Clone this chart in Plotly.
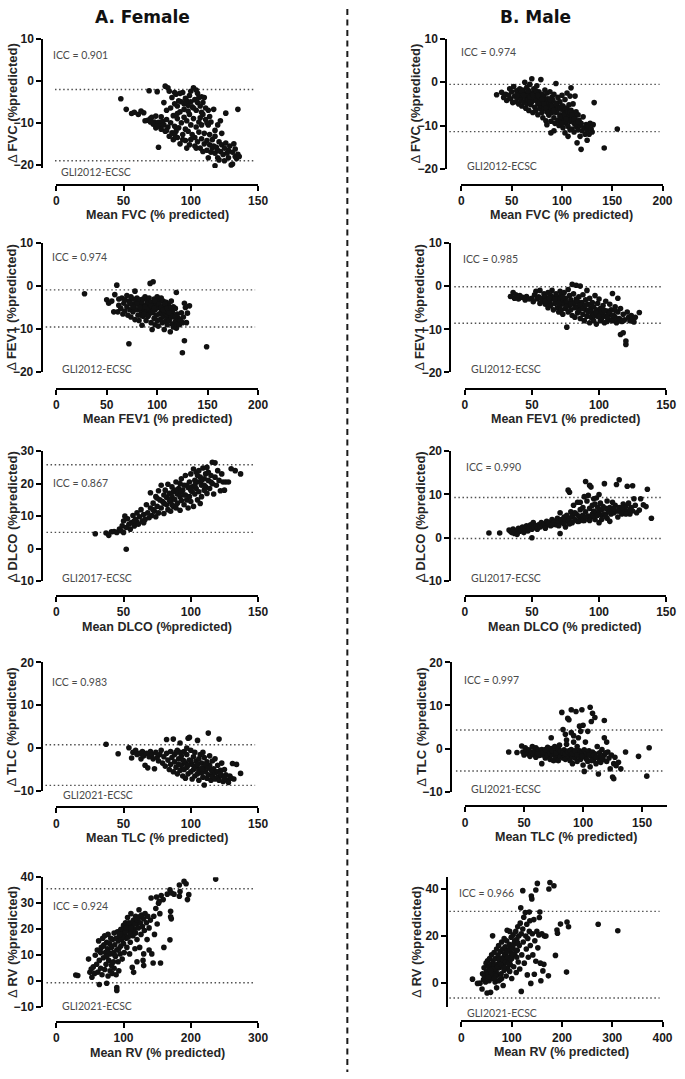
import plotly.graph_objects as go

W, H = 685, 1079

# ---------------- data (mean, difference) ----------------
female_fvc = [(48,-4.3),(52,-6.8),(56,-7.8),(58,-7.5),(61,-8.0),(63,-7.2),(65,-7.6),(66,-9.5),(68,-9.4),(69,-2.4),(70,-9.0),(71,-8.7),(72,-10.3),(73,-9.8),(74,-11.2),(74,-8.4),(75,-2.6),(76,-9.9),(76,-15.8),(77,-10.8),(78,-8.6),(78,-11.5),(79,-9.7),(80,-10.5),(80,-5.2),(81,-1.3),(81,-12.0),(82,-7.0),(82,-9.2),(83,-1.7),(83,-11.0),(84,-2.5),(84,-13.2),(85,-6.5),(85,-10.0),(86,-4.0),(86,-12.4),(87,-8.3),(87,-14.0),(88,-5.5),(88,-10.8),(89,-3.2),(89,-12.0),(90,-6.0),(90,-9.0),(90,-13.5),(91,-4.8),(91,-11.2),(92,-7.4),(92,-15.0),(93,-5.0),(93,-10.0),(94,-2.8),(94,-12.8),(95,-6.8),(95,-8.7),(96,-4.2),(96,-11.5),(96,-14.2),(97,-9.5),(97,-16.0),(98,-5.8),(98,-12.0),(99,-3.5),(99,-8.0),(100,-2.5),(100,-10.5),(100,-14.0),(101,-6.2),(101,-12.8),(102,-1.7),(102,-9.0),(103,-4.5),(103,-13.5),(103,-15.5),(104,-7.0),(104,-11.0),(105,-3.0),(105,-5.2),(105,-14.5),(106,-9.8),(106,-12.2),(107,-6.0),(107,-16.0),(108,-3.8),(108,-10.5),(108,-13.8),(109,-5.2),(109,-8.0),(110,-12.5),(110,-15.0),(111,-9.2),(111,-6.5),(112,-14.2),(112,-16.5),(113,-10.5),(113,-7.0),(114,-15.2),(114,-12.8),(115,-17.0),(115,-9.8),(116,-14.0),(116,-16.0),(117,-6.8),(117,-15.5),(118,-13.2),(118,-20.2),(118,-17.2),(119,-15.8),(120,-10.5),(120,-16.5),(121,-18.8),(121,-14.5),(122,-9.5),(122,-16.8),(123,-12.5),(123,-15.2),(124,-17.5),(125,-16.0),(125,-19.0),(126,-7.7),(126,-14.8),(127,-17.2),(128,-16.5),(128,-18.3),(129,-15.5),(130,-20.0),(131,-19.8),(131,-17.0),(132,-15.0),(133,-18.0),(133,-16.2),(134,-18.5),(135,-17.5),(135,-6.8),(136,-18.0),
(88,-2.8),(92,-3.0),(97,-4.8),(100,-5.0),(104,-2.2),(106,-4.0),(107,-8.8),(110,-4.0),(95,-5.5),(90,-7.8),(98,-7.2),(102,-6.5),(108,-7.5),(112,-10.0),(118,-11.8),(114,-8.5),(70,-9.8),(75,-10.8),(82,-11.8),(88,-12.8),(94,-14.0),(99,-15.2),(104,-16.0),(109,-16.8),(113,-18.3),(120,-18.3)]

male_fvc = [(35,-2.9),(40,-2.3),(42,-3.5),(44,-2.8),(45,-4.2),(47,-3.0),(48,-1.5),(49,-3.8),(50,-2.2),(51,-4.7),(52,-1.0),(53,-3.2),(54,-4.5),(55,-2.0),(56,-3.6),(57,-5.0),(58,-1.5),(58,-2.8),(59,-4.0),(60,-3.0),(60,-5.5),(61,-1.8),(62,-4.6),(63,0.0),(63,-2.5),(64,-3.8),(64,-6.0),(65,-1.2),(65,-5.0),(66,-3.0),(66,-4.2),(67,-2.0),(67,-6.5),(68,-0.5),(68,-3.5),(69,-5.2),(70,0.8),(70,-2.5),(70,-4.5),(71,-7.0),(72,-3.8),(72,-1.5),(73,-5.8),(73,-2.8),(74,-4.2),(74,-6.6),(75,-3.2),(75,-0.8),(76,-5.0),(76,-7.5),(77,-2.2),(77,-4.0),(78,-6.0),(78,-3.5),(79,0.6),(79,-5.3),(80,-2.8),(80,-7.0),(81,-4.5),(81,-8.2),(82,-3.2),(82,-6.0),(83,-1.8),(83,-5.0),(84,-4.0),(84,-8.9),(85,-6.8),(85,-2.5),(86,-5.5),(86,-3.8),(87,-7.6),(87,-4.6),(88,-2.2),(88,-6.2),(89,-9.0),(89,-11.7),(89,-5.0),(90,-3.5),(90,-7.0),(91,-6.0),(91,-4.2),(92,-8.2),(92,-2.8),(93,-5.5),(93,-9.5),(94,-0.3),(94,-7.0),(95,-4.8),(95,-6.5),(96,-8.8),(96,-3.5),(97,-5.8),(97,-10.0),(98,-7.5),(98,-4.5),(99,-6.2),(99,-9.0),(100,-3.0),(100,-7.8),(101,-5.5),(101,-10.5),(102,-6.8),(102,-8.5),(103,-11.7),(103,-4.0),(104,-7.2),(104,-9.5),(105,-6.0),(105,-2.5),(106,-8.2),(106,-10.2),(107,-5.2),(107,-7.5),(108,-9.0),(108,-3.2),(109,-1.3),(109,-6.5),(110,-8.5),(110,-10.8),(111,-7.0),(111,-5.0),(112,-9.5),(112,-11.5),(113,-3.2),(113,-8.0),(114,-6.8),(114,-10.2),(115,-14.0),(115,-9.0),(116,-7.5),(116,-11.0),(117,-8.8),(118,-10.0),(118,-12.5),(119,-15.5),(119,-9.5),(120,-11.2),(121,-8.0),(122,-10.5),(123,-12.0),(124,-9.8),(125,-13.4),(125,-11.0),(126,-10.2),(127,-12.0),(128,-9.5),(129,-10.8),(130,-11.5),(131,-9.8),(132,-4.7),(142,-15.2),(155,-10.8),
(55,-3.0),(60,-2.0),(62,-3.0),(66,-2.0),(68,-4.5),(71,-3.0),(74,-2.0),(76,-3.0),(78,-4.8),(80,-4.0),(82,-5.0),(84,-6.0),(86,-7.0),(88,-4.0),(90,-5.5),(92,-6.5),(94,-5.0),(96,-6.0),(98,-6.0),(100,-5.5),(102,-7.5),(104,-6.0),(106,-6.8),(108,-7.0),(110,-7.5),(112,-8.5),(114,-9.5),(116,-9.2),(100,-9.5),(98,-8.0),(104,-8.5),(108,-11.0),(92,-11.2),(85,-9.8),(106,-12.5)]

female_fev1 = [(28,-1.8),(50,-3.2),(52,-4.0),(55,-3.5),(57,-6.0),(58,-2.0),(60,0.2),(61,-6.0),(62,-3.0),(62,-4.5),(64,-5.2),(65,-2.8),(66,-6.5),(67,-4.0),(68,-3.2),(68,-5.8),(70,-2.2),(70,-4.8),(71,-6.8),(72,-13.4),(72,-3.5),(73,-5.5),(74,-2.5),(74,-7.2),(75,-4.2),(76,-3.0),(76,-6.0),(77,-5.0),(78,-1.2),(78,-7.8),(79,-3.8),(80,-5.5),(80,-2.8),(81,-6.8),(82,-4.2),(82,-8.0),(83,-3.2),(84,-5.8),(84,-6.8),(85,-9.1),(85,-4.0),(86,-3.0),(86,-7.0),(87,-5.2),(88,-2.5),(88,-6.0),(89,-4.5),(89,-8.0),(90,-3.5),(90,-5.8),(91,-7.0),(91,-4.0),(92,-2.8),(92,-6.5),(93,0.6),(93,-5.0),(94,-8.5),(94,-3.8),(95,-6.2),(95,-10.1),(96,1.0),(96,-4.5),(97,-7.5),(97,-3.0),(98,-5.5),(98,-9.0),(99,-4.0),(99,-6.8),(100,-2.5),(100,-8.0),(101,-5.0),(101,-9.3),(102,-3.5),(102,-6.5),(103,-7.8),(103,-4.8),(104,-2.8),(104,-6.0),(105,-8.5),(105,-5.5),(106,-3.5),(106,-7.0),(107,-10.1),(107,-4.5),(108,-6.2),(108,-8.2),(109,-3.8),(109,-5.8),(110,-7.5),(110,-9.0),(111,-4.2),(111,-6.8),(112,-8.0),(113,-10.6),(113,-5.5),(114,-7.2),(114,-3.5),(115,-8.8),(115,-6.0),(116,-4.8),(116,-9.5),(117,-7.0),(118,-8.2),(118,-5.2),(119,-1.5),(119,-9.8),(120,-6.5),(120,-8.8),(121,-7.5),(122,-9.0),(123,-8.0),(124,-6.2),(125,-15.5),(125,-8.5),(126,-7.2),(127,-4.0),(127,-12.7),(128,-5.0),(129,-8.5),(130,-6.3),(132,-4.6),(149,-14.1),
(80,-4.2),(85,-5.0),(88,-4.8),(90,-6.8),(92,-5.5),(94,-6.0),(96,-5.8),(98,-3.5),(100,-4.8),(102,-4.2),(104,-5.0),(106,-5.5),(108,-4.2),(110,-5.2),(112,-6.2),(114,-5.0),(116,-7.0),(118,-7.0),(94,-4.6),(97,-5.2),(87,-6.5),(83,-5.0),(76,-4.8),(73,-4.0)]

male_fev1 = [(34,-2.4),(36,-1.5),(37,-2.8),(38,-2.0),(40,-3.0),(41,-2.2),(43,-2.6),(45,-3.2),(46,-2.4),(48,-3.0),(50,-2.8),(51,-3.6),(52,-2.0),(53,-1.2),(54,-3.0),(55,-2.5),(56,-1.0),(56,-4.0),(57,-2.8),(58,-3.5),(59,-1.8),(60,-4.2),(60,-2.5),(61,-3.2),(62,-1.5),(62,-5.0),(63,-3.8),(64,-2.2),(64,-4.5),(65,-1.0),(65,-3.0),(66,-5.5),(66,-2.6),(67,-4.0),(68,-1.8),(68,-3.4),(69,-5.0),(69,-2.5),(70,-6.0),(70,-3.0),(71,-1.2),(71,-4.5),(72,-2.2),(72,-5.5),(73,-3.5),(73,-6.5),(74,-1.5),(74,-4.2),(75,-2.8),(75,-5.2),(76,-9.5),(76,-3.8),(77,-0.8),(77,-6.0),(78,-4.5),(78,-2.2),(79,-5.5),(79,-3.2),(80,0.4),(80,-6.8),(81,-4.0),(81,-1.8),(82,-5.0),(82,-7.2),(83,0.2),(83,-3.0),(84,-4.8),(84,-6.2),(85,-2.5),(85,-5.8),(86,0.0),(86,-7.5),(87,-3.8),(87,-5.0),(88,-6.5),(88,-2.0),(89,-4.5),(89,-8.0),(90,-5.5),(90,-3.2),(91,-7.0),(91,-1.0),(92,-4.2),(92,-6.0),(93,-8.5),(93,-2.8),(94,-5.0),(94,-7.2),(95,-3.8),(95,-6.2),(96,-8.0),(96,-4.8),(97,-2.2),(97,-6.8),(98,-5.5),(98,-8.8),(99,-4.0),(99,-7.0),(100,-6.0),(100,-3.0),(101,-8.0),(101,-5.2),(102,-7.5),(103,-4.5),(103,-6.5),(104,-8.5),(105,-3.5),(105,-7.0),(106,-5.8),(106,-8.2),(107,-6.5),(108,-4.2),(108,-7.8),(109,-5.5),(110,-1.7),(110,-8.0),(111,-6.8),(112,-4.8),(112,-7.2),(113,-8.5),(114,-2.8),(114,-6.0),(115,-7.5),(116,-11.2),(116,-5.2),(117,-8.2),(118,-10.8),(118,-6.5),(119,-7.8),(120,-13.5),(120,-12.7),(121,-6.0),(122,-7.2),(123,-8.0),(124,-6.8),(125,-7.5),(126,-8.3),(127,-7.2),(130,-6.1),
(60,-3.5),(63,-2.8),(67,-3.0),(70,-4.0),(73,-2.6),(76,-4.6),(79,-4.2),(82,-3.8),(84,-3.6),(86,-4.4),(88,-5.2),(90,-4.4),(92,-5.6),(94,-6.0),(96,-6.6),(98,-6.2),(100,-7.0),(102,-6.0),(104,-5.6),(106,-7.2),(108,-6.2),(110,-6.8),(112,-5.6),(114,-8.0),(116,-7.8),(118,-8.0)]

female_dlco = [(29,4.6),(37,4.8),(39,4.1),(41,5.2),(43,5.3),(45,5.0),(47,6.0),(48,5.5),(49,7.0),(50,5.0),(50,8.5),(51,10.0),(52,-0.2),(52,6.5),(53,9.2),(54,7.5),(55,6.0),(56,8.0),(57,10.2),(58,7.0),(59,9.0),(60,8.2),(60,11.0),(61,7.5),(62,9.8),(63,12.0),(64,8.5),(65,10.5),(66,9.0),(67,13.5),(68,11.0),(69,9.5),(70,12.5),(70,17.2),(71,10.2),(72,14.0),(73,11.5),(74,16.0),(74,9.8),(75,13.0),(76,17.8),(76,11.0),(77,15.0),(78,12.5),(78,19.5),(79,14.5),(80,16.5),(80,10.8),(81,18.0),(82,13.5),(82,15.8),(83,19.8),(83,12.0),(84,17.0),(85,14.5),(85,11.5),(86,16.0),(86,19.0),(87,13.0),(88,18.0),(88,15.2),(89,20.5),(89,12.5),(90,16.8),(90,14.0),(91,18.5),(92,11.8),(92,16.0),(93,21.5),(93,14.8),(94,18.0),(95,13.5),(95,19.5),(96,16.5),(96,22.5),(97,15.0),(98,18.8),(98,12.5),(99,20.5),(99,16.0),(100,23.0),(100,14.5),(101,19.0),(101,17.5),(102,24.5),(102,13.0),(103,21.0),(103,16.8),(104,23.5),(104,18.5),(105,15.0),(105,20.5),(106,24.0),(106,17.5),(107,13.9),(107,22.0),(108,19.5),(108,16.0),(109,24.8),(110,21.5),(110,18.0),(111,19.0),(111,23.0),(112,17.0),(112,25.0),(113,21.0),(114,18.5),(115,22.5),(116,26.6),(116,20.0),(117,16.8),(118,26.4),(118,22.0),(119,19.5),(120,24.0),(121,21.0),(122,17.8),(123,23.0),(124,20.5),(125,18.0),(126,20.5),(128,20.5),(130,24.6),(133,24.0),(137,23.0),
(84,15.0),(87,17.5),(90,18.0),(93,17.5),(95,16.5),(97,19.5),(100,18.0),(103,19.5),(105,22.5),(108,21.0),(110,19.5),(113,23.5),(115,20.5),(92,20.0),(86,13.5),(80,14.0),(75,15.5),(72,12.0),(65,8.0),(58,8.5)]

male_dlco = [(18,1.1),(26,1.1),(33,1.8),(34,1.5),(35,1.2),(36,2.0),(37,1.0),(38,1.6),(39,0.8),(40,2.2),(41,1.5),(42,1.8),(43,2.5),(44,1.2),(45,2.0),(46,2.8),(47,1.6),(48,2.3),(49,3.0),(50,0.0),(50,2.0),(51,3.5),(52,2.4),(53,2.8),(54,2.0),(55,3.0),(56,2.5),(57,3.5),(58,2.8),(59,3.2),(60,2.6),(61,3.8),(62,3.0),(63,3.5),(64,2.8),(65,4.2),(66,3.4),(67,3.8),(68,3.0),(69,4.5),(70,3.6),(71,1.0),(71,5.8),(72,4.2),(73,3.5),(74,4.8),(75,2.5),(75,4.0),(76,5.2),(77,11.0),(77,3.8),(78,10.5),(78,4.5),(79,6.0),(80,3.5),(80,5.0),(81,7.5),(82,4.2),(83,5.5),(84,8.2),(84,3.8),(85,5.0),(86,6.5),(87,4.5),(88,7.0),(88,5.2),(89,4.0),(90,13.0),(90,6.0),(91,8.5),(92,9.8),(92,5.0),(93,12.1),(93,6.8),(94,11.7),(94,4.8),(95,7.5),(95,5.5),(96,9.0),(96,6.2),(97,4.2),(98,9.2),(98,5.8),(99,7.0),(100,6.0),(100,3.5),(101,8.0),(102,5.2),(102,6.5),(103,7.2),(104,12.5),(104,5.5),(105,6.8),(106,4.5),(106,8.5),(107,6.0),(108,7.0),(108,3.8),(109,5.5),(110,6.5),(110,8.2),(111,5.8),(112,7.5),(113,12.3),(113,6.2),(114,4.8),(115,13.4),(115,7.0),(116,6.0),(117,5.5),(118,7.8),(119,6.5),(120,7.2),(121,11.9),(121,6.0),(122,8.0),(123,5.5),(124,7.0),(125,12.0),(125,6.2),(126,9.0),(127,7.5),(128,5.8),(130,6.4),(131,9.0),(133,7.6),(135,7.2),(136,11.2),(139,4.5),
(60,2.2),(65,3.0),(70,2.8),(74,3.2),(78,3.2),(82,5.8),(85,3.8),(88,4.0),(90,4.8),(93,4.0),(96,5.0),(99,5.2),(102,4.2),(105,5.0),(108,6.0),(111,6.8),(114,6.2),(117,7.0),(120,5.5),(123,6.5),(97,7.8),(89,9.5),(86,8.2),(100,10.0)]

female_tlc = [(37,0.9),(46,-1.3),(54,0.1),(56,-2.3),(57,-1.0),(59,-0.5),(60,-1.5),(62,-1.2),(63,-2.5),(64,-0.8),(65,-1.8),(66,-4.0),(67,-1.2),(68,-4.6),(69,-2.0),(70,-0.8),(71,-1.5),(72,-2.5),(73,-4.8),(74,-1.0),(75,-2.2),(76,-3.0),(77,-1.5),(78,-0.5),(79,-3.5),(80,-2.0),(81,-4.2),(82,2.0),(82,-1.2),(83,-2.8),(84,-5.0),(85,-0.8),(85,-3.8),(86,-2.2),(87,2.1),(87,-5.5),(88,-1.5),(88,-3.2),(89,-4.5),(90,-0.5),(90,-6.0),(91,-2.5),(91,-3.8),(92,1.2),(92,-5.2),(93,-1.8),(93,-4.0),(94,-6.5),(94,-2.8),(95,-0.8),(95,-5.0),(96,-3.5),(96,-7.0),(97,-1.5),(97,-4.5),(98,2.3),(98,-6.0),(99,2.5),(99,-2.8),(100,-5.5),(100,-0.5),(101,-3.8),(101,-7.2),(102,-2.0),(102,-5.0),(103,-6.5),(103,-1.0),(104,-4.2),(104,-3.0),(105,1.8),(105,-6.0),(106,-2.5),(106,-7.5),(107,-4.8),(107,-1.5),(108,-5.8),(108,-3.5),(109,-6.8),(110,-8.6),(110,-2.2),(110,-4.5),(111,-5.5),(112,-3.2),(112,-7.0),(113,3.5),(113,-6.2),(114,-4.0),(114,-1.8),(115,-5.0),(115,-7.5),(116,-3.0),(116,-6.5),(117,-4.8),(118,-7.2),(118,-2.5),(119,-5.5),(120,-6.8),(120,-4.0),(121,2.1),(121,-7.5),(122,-5.2),(123,-3.5),(123,-6.5),(124,-7.8),(125,-5.0),(126,-6.2),(127,-7.5),(128,-8.0),(129,-6.5),(130,-7.0),(131,-3.6),(132,-7.2),(134,-3.8),(137,-5.9),
(95,-3.0),(98,-4.0),(100,-3.0),(103,-4.5),(105,-3.8),(106,-5.2),(108,-4.8),(111,-3.8),(113,-4.6),(116,-5.5),(118,-5.8),(120,-5.5),(122,-6.0),(109,-1.0),(97,0.0),(92,-1.0),(89,-1.0),(125,-6.8)]

male_tlc = [(37,-0.8),(44,-0.9),(48,0.6),(49,-0.8),(50,-1.5),(51,0.2),(52,-0.5),(53,-1.2),(54,-0.3),(55,-1.8),(56,-0.8),(57,0.5),(58,-1.3),(59,-0.5),(60,-2.0),(60,0.2),(61,-1.0),(62,-0.3),(63,-1.6),(64,-0.8),(65,-3.5),(65,-0.2),(66,-1.5),(67,-0.6),(68,-2.2),(69,-1.0),(70,0.3),(70,-1.8),(71,-0.5),(72,-2.5),(72,-1.2),(73,0.0),(73,2.5),(74,-1.5),(75,-0.8),(75,-2.8),(76,-1.2),(76,0.5),(77,-2.0),(78,-0.5),(78,-1.5),(79,-2.8),(80,-0.8),(80,0.8),(81,-1.8),(82,8.4),(82,-1.0),(83,-2.2),(83,4.4),(84,-0.3),(84,-1.5),(85,3.3),(85,-2.5),(86,-0.8),(86,1.0),(87,7.0),(87,-1.8),(88,6.7),(88,-0.5),(89,-2.8),(89,-1.2),(90,9.0),(90,3.7),(90,-0.2),(91,-1.8),(91,-3.5),(92,1.5),(92,-0.8),(93,-2.2),(94,8.6),(94,-1.2),(95,0.5),(95,-3.0),(96,2.5),(96,-1.5),(97,5.2),(97,-0.5),(98,-2.5),(99,9.0),(99,-1.0),(100,5.4),(100,-3.8),(101,-5.3),(101,-0.3),(102,-2.0),(102,1.5),(103,-1.2),(104,4.0),(104,-3.0),(105,-0.5),(106,9.6),(106,-4.2),(107,6.3),(107,-1.8),(108,8.2),(108,-0.8),(109,-2.8),(110,7.2),(110,-1.2),(111,-3.5),(112,0.5),(113,-5.9),(113,-2.0),(114,-1.0),(115,-3.2),(116,-0.2),(117,-2.5),(118,6.5),(118,2.5),(118,-1.5),(120,-3.0),(121,-0.8),(122,-2.2),(123,-4.7),(124,-1.5),(125,-6.6),(126,-7.0),(126,-3.5),(127,-2.0),(128,-4.0),(130,-3.2),(132,-4.7),(136,-0.8),(147,-1.8),(154,-6.4),(156,0.2),
(62,-1.2),(66,-0.8),(68,-0.2),(74,-0.5),(77,-1.0),(79,-0.2),(81,-0.5),(83,-1.0),(85,-1.2),(87,-0.8),(89,-0.5),(91,-1.2),(93,-0.5),(95,-1.5),(97,-2.0),(99,-1.8),(103,-2.5),(105,-1.5),(107,-2.8),(109,-1.5),(111,-2.0),(114,-3.0),(116,-2.0),(119,-1.0),(92,3.0),(98,4.0),(86,2.0),(120,1.5)]

female_rv = [(29,2.4),(32,2.2),(48,8.5),(50,3.4),(52,4.7),(53,1.5),(55,5.5),(57,3.0),(58,10.0),(60,6.5),(61,12.0),(62,3.5),(63,15.5),(64,-1.3),(64,8.0),(65,11.5),(66,5.0),(67,13.0),(68,2.5),(69,16.5),(70,9.0),(71,14.0),(72,4.5),(72,17.5),(73,11.0),(74,6.5),(75,-0.8),(75,15.0),(76,12.5),(77,2.0),(77,18.0),(78,8.0),(79,14.5),(80,4.0),(80,10.5),(81,16.5),(82,13.0),(83,3.0),(83,7.0),(84,16.0),(85,11.0),(86,5.0),(86,18.5),(87,14.0),(88,9.5),(89,2.5),(89,16.5),(90,-2.5),(90,-3.6),(90,12.0),(91,19.0),(92,7.5),(92,15.5),(93,4.0),(94,17.5),(95,10.5),(96,20.0),(96,13.5),(97,16.0),(98,8.5),(99,19.5),(100,14.5),(100,21.5),(101,11.0),(102,18.0),(103,22.5),(104,16.5),(105,13.0),(105,20.0),(106,24.5),(107,17.0),(108,19.5),(109,10.5),(110,22.0),(110,15.0),(111,26.0),(112,19.0),(113,5.3),(113,21.5),(114,17.5),(115,3.4),(115,23.5),(116,20.0),(117,12.5),(118,25.0),(118,18.5),(119,22.0),(120,7.5),(120,16.0),(121,24.0),(122,20.5),(123,27.5),(124,13.0),(125,22.5),(126,18.0),(127,25.5),(128,21.0),(129,8.0),(130,24.0),(130,6.0),(131,19.5),(132,26.0),(134,22.5),(135,16.0),(136,25.0),(138,20.5),(140,23.5),(141,32.0),(142,10.5),(144,7.0),(145,25.0),(146,18.0),(148,28.0),(149,32.4),(150,22.0),(152,30.0),(153,30.7),(154,26.0),(155,7.0),(156,33.0),(159,31.4),(160,13.0),(165,33.5),(169,35.2),(169,15.9),(170,26.9),(170,24.8),(171,24.0),(171,34.0),(175,33.5),(183,37.0),(183,32.7),(184,34.5),(190,38.4),(193,37.5),(195,31.4),(197,33.3),(237,39.3),
(100,18.0),(103,19.0),(106,21.0),(108,22.5),(111,20.5),(114,23.0),(117,22.0),(120,23.5),(123,24.5),(125,25.0),(110,18.0),(104,20.5),(98,17.0),(95,18.0),(93,12.5),(87,10.0),(82,6.0),(78,11.0),(70,13.5),(66,11.0),(75,9.5),(85,7.5),(130,10.5),(138,12.0)]

male_rv = [(22,1.7),(32,-0.1),(37,0.0),(41,-2.5),(42,4.0),(44,1.5),(45,6.5),(46,3.0),(48,0.5),(49,8.5),(50,5.0),(51,-4.2),(51,2.5),(52,9.5),(53,4.0),(54,7.0),(55,1.0),(56,10.5),(57,5.5),(58,-3.9),(58,3.0),(59,8.0),(60,12.0),(61,6.0),(62,20.1),(62,2.0),(63,9.5),(64,4.5),(65,13.0),(66,7.5),(67,0.5),(68,10.5),(69,5.0),(70,14.5),(70,-2.0),(71,8.0),(72,3.5),(73,12.0),(74,16.0),(75,6.5),(76,9.0),(77,1.5),(78,13.5),(79,4.0),(80,17.5),(80,10.5),(81,7.0),(82,14.5),(83,-1.0),(84,11.0),(85,19.0),(85,5.5),(86,8.5),(87,15.5),(88,12.0),(89,3.0),(90,18.0),(90,9.5),(91,22.5),(92,6.5),(93,14.0),(94,11.0),(95,16.5),(96,22.0),(97,8.0),(98,13.0),(99,19.5),(100,10.5),(100,2.0),(102,15.0),(103,20.5),(104,7.0),(105,17.0),(106,12.5),(108,22.0),(109,4.5),(110,18.5),(111,14.0),(112,24.0),(113,9.0),(114,20.0),(115,16.0),(116,6.0),(117,25.5),(118,32.0),(119,-3.5),(119,21.0),(120,12.0),(122,39.3),(122,23.0),(123,17.5),(124,28.0),(125,8.5),(127,30.0),(128,20.0),(129,14.5),(130,25.0),(131,3.5),(132,19.0),(133,11.0),(135,30.2),(135,22.0),(136,26.5),(137,16.0),(138,-0.1),(139,37.0),(140,35.8),(141,21.0),(142,12.0),(144,27.0),(145,3.8),(146,18.0),(148,39.6),(148,9.3),(150,22.0),(151,42.4),(152,15.0),(154,20.5),(155,27.9),(156,30.2),(157,8.5),(158,1.0),(160,21.0),(162,5.2),(164,8.0),(165,20.0),(168,20.0),(173,3.1),(174,40.0),(176,42.8),(184,41.4),(187,11.8),(190,22.6),(191,21.2),(197,25.1),(209,4.7),(210,26.0),(213,24.0),(272,25.0),(311,22.3),
(60,4.0),(65,6.0),(68,3.0),(72,7.0),(75,10.0),(78,8.0),(82,10.0),(84,6.5),(86,12.5),(88,9.0),(90,13.5),(92,11.0),(94,8.5),(96,14.5),(98,10.0),(100,15.0),(102,12.0),(104,16.5),(106,18.0),(108,14.0),(110,11.0),(112,17.0),(74,1.0),(58,5.5),(54,2.5),(66,2.0),(96,5.0),(80,2.0)]

# limits of agreement (upper, lower)
loa_female = {"FVC": (-2.1, -19.0), "FEV1": (-0.9, -9.5), "DLCO": (25.8, 5.0), "TLC": (0.8, -8.7), "RV": (35.6, -0.6)}
loa_male = {"FVC": (-0.5, -11.4), "FEV1": (-0.15, -8.6), "DLCO": (9.3, -0.15), "TLC": (4.3, -5.2), "RV": (30.5, -6.3)}
icc_female = {"FVC": "0.901", "FEV1": "0.974", "DLCO": "0.867", "TLC": "0.983", "RV": "0.924"}
icc_male = {"FVC": "0.974", "FEV1": "0.985", "DLCO": "0.990", "TLC": "0.997", "RV": "0.966"}
ref_label = {"FVC": "GLI2012-ECSC", "FEV1": "GLI2012-ECSC", "DLCO": "GLI2017-ECSC", "TLC": "GLI2021-ECSC", "RV": "GLI2021-ECSC"}

# ---------------- layout geometry (pixels) ----------------
panels = [
    dict(d=female_fvc, k="FVC", sex="F", xt="Mean FVC (% predicted)", xpx=(54.3, 260), xr=(0, 150), xtv=[0, 50, 100, 150], xl=180,
         ypx=(32, 163), yr=(-20.7, 10), ytv=[-20, -10, 0, 10], yl=40, icc=(49, 49), gli=(57, 167), dx0=53),
    dict(d=male_fvc, k="FVC", sex="M", xt="Mean FVC (% predicted)", xpx=(467.3, 672.3), xr=(0, 200), xtv=[0, 50, 100, 150, 200], xl=180,
         ypx=(32.3, 164), yr=(-20, 10), ytv=[-20, -10, 0, 10], yl=451.7, icc=(465, 46), gli=(471, 161), dx0=455),
    dict(d=female_fev1, k="FEV1", sex="F", xt="Mean FEV1 (% predicted)", xpx=(54.3, 260), xr=(0, 200), xtv=[0, 50, 100, 150, 200], xl=386.7,
         ypx=(239, 370), yr=(-20, 10), ytv=[-20, -10, 0, 10], yl=39.3, icc=(48, 253), gli=(58, 367), dx0=43.5),
    dict(d=male_fev1, k="FEV1", sex="M", xt="Mean FEV1 (% predicted)", xpx=(470.7, 676), xr=(0, 150), xtv=[0, 50, 100, 150], xl=386.7,
         ypx=(239, 370.3), yr=(-20, 10), ytv=[-20, -10, 0, 10], yl=456, icc=(467, 255), gli=(475, 367), dx0=460),
    dict(d=female_dlco, k="DLCO", sex="F", xt="Mean DLCO (%predicted)", xpx=(54.3, 260), xr=(0, 150), xtv=[0, 50, 100, 150], xl=596.7,
         ypx=(450, 581.7), yr=(-10, 30), ytv=[-10, 0, 10, 20, 30], yl=40, icc=(49, 482), gli=(58, 578), dx0=44.3),
    dict(d=male_dlco, k="DLCO", sex="M", xt="Mean DLCO (% predicted)", xpx=(470.7, 676), xr=(0, 150), xtv=[0, 50, 100, 150], xl=596.7,
         ypx=(450, 581.7), yr=(-10, 20), ytv=[-10, 0, 10, 20], yl=456, icc=(470, 466), gli=(475, 578), dx0=460),
    dict(d=female_tlc, k="TLC", sex="F", xt="Mean TLC (% predicted)", xpx=(54.3, 260), xr=(0, 150), xtv=[0, 50, 100, 150], xl=811,
         ypx=(664, 794.3), yr=(-10, 20), ytv=[-10, 0, 10, 20], yl=40, icc=(48, 684), gli=(59, 798), dx0=43.3),
    dict(d=male_tlc, k="TLC", sex="M", xt="Mean TLC (% predicted)", xpx=(471, 676.7), xr=(0, 171), xtv=[0, 50, 100, 150], xl=810,
         ypx=(664, 795), yr=(-10, 20), ytv=[-10, 0, 10, 20], yl=456.7, icc=(468, 682), gli=(475, 792), dx0=461.7),
    dict(d=female_rv, k="RV", sex="F", xt="Mean RV (% predicted)", xpx=(54.3, 260), xr=(0, 300), xtv=[0, 100, 200, 300], xl=1028.3,
         ypx=(881.7, 1013.3), yr=(-10, 40), ytv=[-10, 0, 10, 20, 30, 40], yl=40, icc=(49, 911), gli=(58, 1012), dx0=44.3),
    dict(d=male_rv, k="RV", sex="M", xt="Mean RV (% predicted)", xpx=(467.3, 672.3), xr=(0, 400), xtv=[0, 100, 200, 300, 400], xl=1027.7,
         ypx=(881.7, 1013.3), yr=(-10.2, 45), ytv=[0, 20, 40], yl=452.7, icc=(463, 898), gli=(471, 1019), dx0=455),
]


def fx(p):
    return p / W


def fy(p):
    return 1 - p / H


AX_FONT = dict(family="Liberation Sans, Arial, sans-serif", size=12, color="#1a1a1a", weight="bold")
TITLE_FONT = dict(family="Liberation Sans, Arial, sans-serif", size=12.5, color="#262626")
NOTE_FONT = dict(family="Lato, Liberation Sans, sans-serif", size=10.5, color="#4a4a4a")

fig = go.Figure()
annotations = []
shapes = []
layout_axes = {}

for i, p in enumerate(panels, start=1):
    sfx = "" if i == 1 else str(i)
    xs = [a for a, b in p["d"]]
    ys = [b for a, b in p["d"]]
    fig.add_trace(go.Scatter(x=xs, y=ys, mode="markers", xaxis="x" + sfx, yaxis="y" + sfx,
                             marker=dict(size=5.6, color="#111111", line=dict(width=0)),
                             showlegend=False, hoverinfo="skip"))
    common = dict(showline=True, linecolor="black", linewidth=1.8, ticks="outside", ticklen=5,
                  tickwidth=1.8, tickcolor="black", showgrid=False, zeroline=False,
                  tickfont=AX_FONT, anchor="free", fixedrange=True)
    layout_axes["xaxis" + sfx] = dict(common, domain=[fx(p["xpx"][0]), fx(p["xpx"][1])], range=list(p["xr"]),
                                      tickvals=p["xtv"], position=fy(p["xl"]))
    layout_axes["yaxis" + sfx] = dict(common, domain=[fy(p["ypx"][1]), fy(p["ypx"][0])], range=list(p["yr"]),
                                      tickvals=p["ytv"], position=fx(p["yl"]))

    loa = loa_female[p["k"]] if p["sex"] == "F" else loa_male[p["k"]]
    for v in loa:
        shapes.append(dict(type="line", xref="paper", yref="y" + sfx, x0=fx(p["dx0"]), x1=fx(p["xpx"][1] - 3),
                           y0=v, y1=v, line=dict(color="#505050", width=1.4, dash="1.5px,2.6px"), layer="below"))

    icc = icc_female[p["k"]] if p["sex"] == "F" else icc_male[p["k"]]
    annotations.append(dict(text="ICC = " + icc, x=fx(p["icc"][0]), y=fy(p["icc"][1]), xref="paper", yref="paper",
                            xanchor="left", yanchor="middle", showarrow=False, font=NOTE_FONT))
    annotations.append(dict(text=ref_label[p["k"]], x=fx(p["gli"][0]), y=fy(p["gli"][1]), xref="paper", yref="paper",
                            xanchor="left", yanchor="middle", showarrow=False, font=NOTE_FONT))
    annotations.append(dict(text="<b>" + p["xt"] + "</b>", x=fx((p["xpx"][0] + p["xpx"][1]) / 2), y=fy(p["xl"] + 31),
                            xref="paper", yref="paper", xanchor="center", yanchor="middle", showarrow=False,
                            font=TITLE_FONT))
    annotations.append(dict(text="Δ <b>" + p["k"] + " (%predicted)</b>", x=fx(p["yl"] - 31),
                            y=fy((p["ypx"][0] + p["ypx"][1]) / 2), textangle=-90,
                            xref="paper", yref="paper", xanchor="center", yanchor="middle", showarrow=False,
                            font=dict(TITLE_FONT, size=13)))

annotations.append(dict(text="<b>A. Female</b>", x=fx(142.5), y=fy(10), xref="paper", yref="paper",
                        xanchor="center", yanchor="middle", showarrow=False,
                        font=dict(family="DejaVu Sans, sans-serif", size=17, color="#111")))
annotations.append(dict(text="<b>B. Male</b>", x=fx(542.5), y=fy(10), xref="paper", yref="paper",
                        xanchor="center", yanchor="middle", showarrow=False,
                        font=dict(family="DejaVu Sans, sans-serif", size=17, color="#111")))

shapes.append(dict(type="line", xref="paper", yref="paper", x0=fx(351), x1=fx(351), y0=fy(2), y1=0,
                   line=dict(color="#1a1a1a", width=2, dash="6px,4.5px")))

fig.update_layout(width=W, height=H, margin=dict(l=0, r=0, t=0, b=0, pad=0), autosize=False,
                  paper_bgcolor="white", plot_bgcolor="white", showlegend=False,
                  annotations=annotations, shapes=shapes, **layout_axes)

# remove the default page margin so the figure sits exactly in the window
fig.write_html("out.html", config={"displayModeBar": False},
               post_script="document.body.style.margin='0';document.body.style.overflow='hidden';"
                           "document.documentElement.style.overflow='hidden';")
